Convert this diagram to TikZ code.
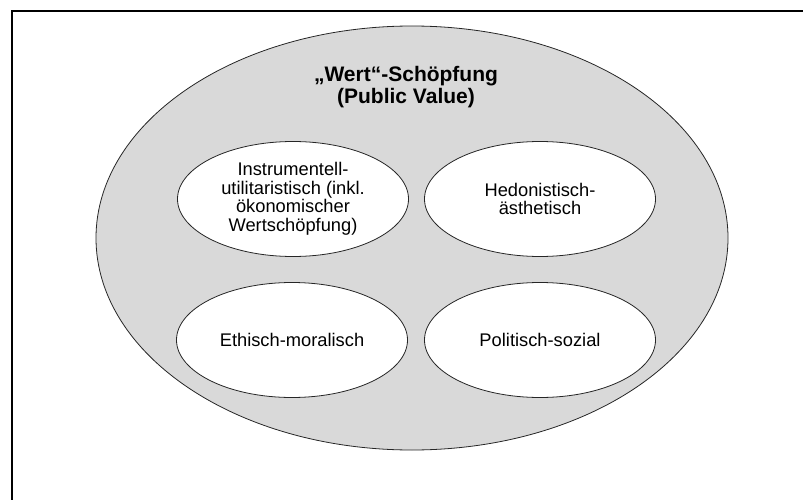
\documentclass[tikz,border=0pt]{standalone}
\usepackage{fontspec}
\setmainfont{Liberation Sans}
\usepackage{tikz}
\usetikzlibrary{shapes,positioning}
\usepackage{xcolor}
\definecolor{pvgrey}{RGB}{217,217,217}
\tikzstyle{outerval} = [ellipse, minimum width=632pt, minimum height=424pt, inner sep=0pt, draw=black!85, fill=pvgrey, line width=0.8pt]
\tikzstyle{dimension} = [ellipse, minimum width=231pt, minimum height=115pt, inner sep=0pt, text centered, align=center, draw=black!85, fill=white, line width=0.8pt, font=\fontsize{18.3}{18.5}\selectfont]

\begin{document}
\begin{tikzpicture}[x=1pt,y=-1pt]
\useasboundingbox (0,0) rectangle (803,500);
% Frame
\draw[line width=2.2pt] (12,501) |- (804,11);

% Central ellipse
\node[outerval] (value) at (412,238) {};
\node[font=\fontsize{21}{22.3}\selectfont\bfseries, align=center] (title) at (406,87) {„Wert“-Schöpfung\\(Public Value)};

% Four dimensions
\node[dimension] (instr) at (293,199) {Instrumentell-\\utilitaristisch (inkl.\\ökonomischer\\Wertschöpfung)};
\node[dimension] (hedon) at (540,199) {Hedonistisch-\\ästhetisch};
\node[dimension] (ethic) at (292,340) {Ethisch-moralisch};
\node[dimension] (polit) at (540,340) {Politisch-sozial};
\end{tikzpicture}
\end{document}
